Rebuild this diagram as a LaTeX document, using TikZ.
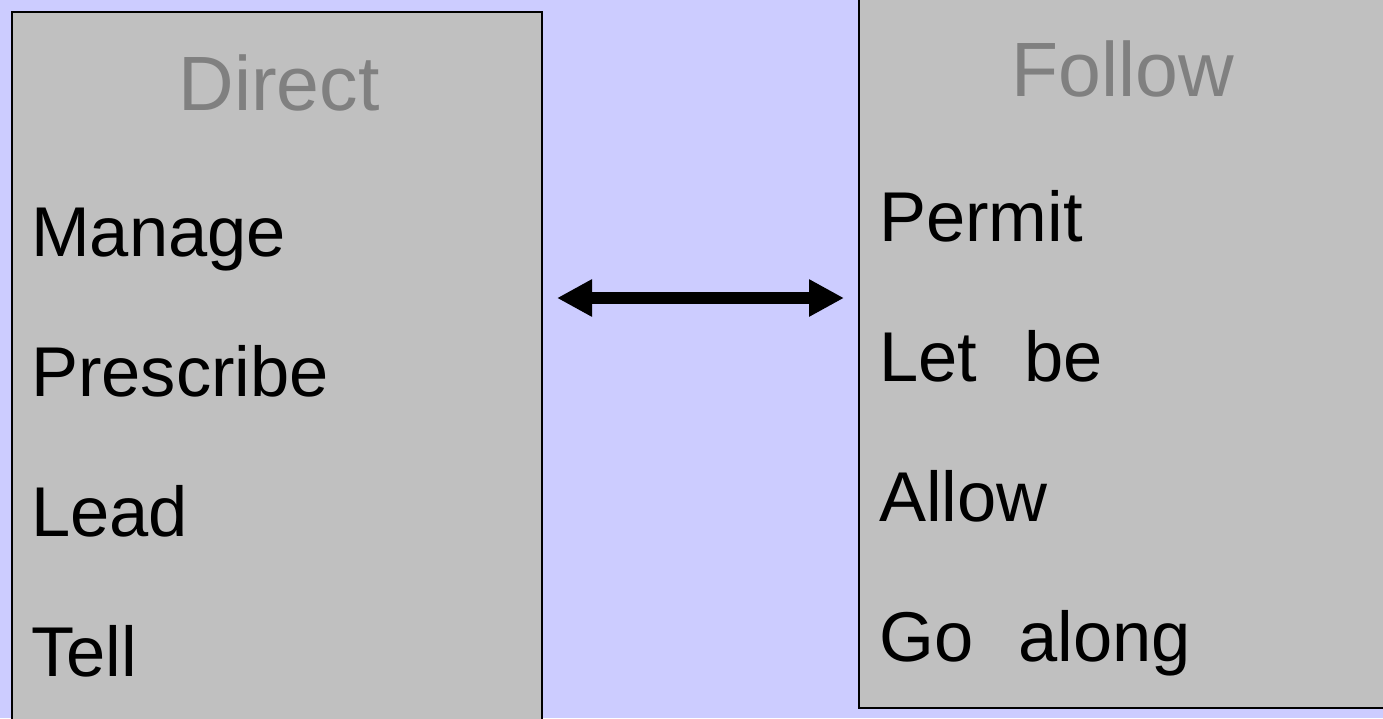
\documentclass[tikz,border=0pt]{standalone}
\usepackage{fontspec}
\setmainfont{Liberation Sans}
\usetikzlibrary{arrows.meta}
\definecolor{bgblue}{HTML}{CCCCFF}
\definecolor{boxgray}{HTML}{C0C0C0}
\definecolor{titlegray}{HTML}{808080}
\tikzset{
  panel/.style={draw=black, line width=1.6pt, fill=boxgray, inner sep=0pt, anchor=north west},
  title/.style={text=titlegray, inner sep=0pt, anchor=base, font=\fontsize{77}{77}\selectfont},
  item/.style={text=black, inner sep=0pt, anchor=base west, font=\fontsize{70.5}{70.5}\selectfont},
  dblarrow/.style={line width=12pt, {Triangle[length=35pt,width=35pt]}-{Triangle[length=35pt,width=35pt]}}
}
\begin{document}
\begin{tikzpicture}[x=1pt,y=-1pt]
\useasboundingbox (0,0) rectangle (1383,718);
\clip (0,0) rectangle (1383,718);
\fill[bgblue] (0,0) rectangle (1383,718);
% panels
\node[panel, minimum width=530pt, minimum height=740pt] (lbox) at (11,11) {};
\node[panel, minimum width=540pt, minimum height=727pt] (rbox) at (858,-20) {};
% titles
\node[title] (direct) at (279,110) {Direct};
\node[title] (follow) at (1123,96) {Follow};
% left items
\node[item] (manage) at (31,256) {Manage};
\node[item] (prescribe) at (31,396) {Prescribe};
\node[item] (lead) at (31,536) {Lead};
\node[item] (tell) at (31,676) {Tell};
% right items
\node[item] (permit) at (879,241) {Permit};
\node[item] (letbe) at (879,381) {Let\hspace{47pt}be};
\node[item] (allow) at (879,521) {Allow};
\node[item] (goalong) at (879,661) {Go\hspace{45pt}along};
% arrow
\coordinate (al) at (557,298);
\coordinate (ar) at (844,298);
\draw[dblarrow] (al) -- (ar);
\end{tikzpicture}
\end{document}
